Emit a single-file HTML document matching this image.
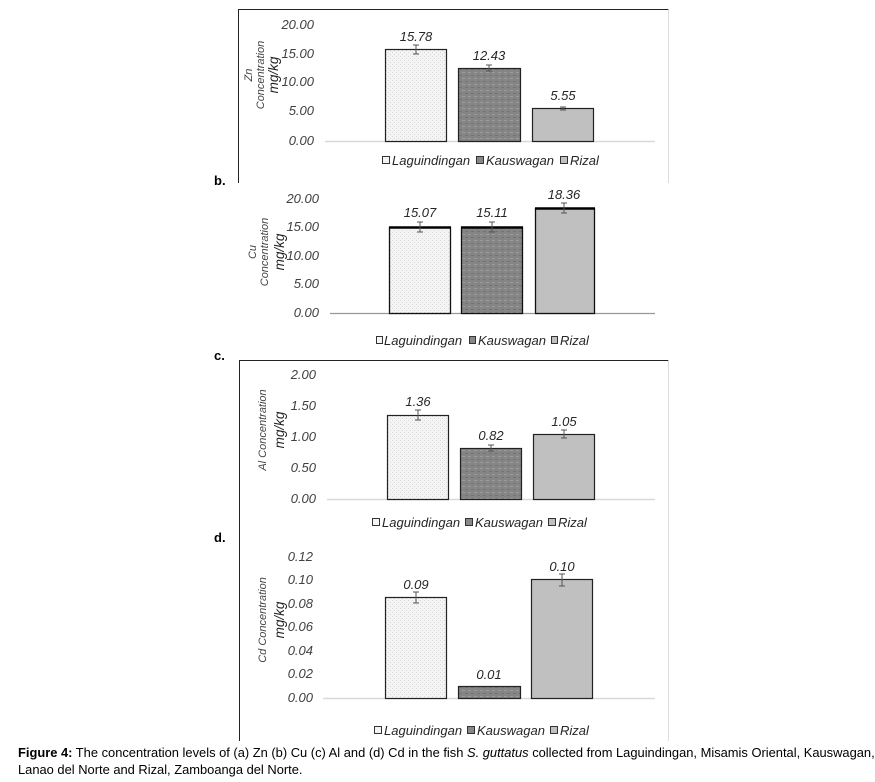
<!DOCTYPE html>
<html><head><meta charset="utf-8"><style>
body{margin:0;background:#fff;}
svg{display:block;}
text{font-family:"Liberation Sans",Arial,sans-serif;}
.t{font-size:13px;font-style:italic;fill:#404040;}
.v{font-size:13px;font-style:italic;fill:#262626;}
.lg{font-size:13px;font-style:italic;fill:#262626;}
.lab{font-size:13px;font-weight:bold;fill:#000;}
.yl{font-size:11px;font-style:italic;fill:#444;}
.ylb{font-size:13.5px;font-style:italic;fill:#222;}
</style></head><body>
<svg width="875" height="782" viewBox="0 0 875 782" xmlns="http://www.w3.org/2000/svg">
<defs>
<pattern id="p1" width="4" height="4" patternUnits="userSpaceOnUse"><rect width="4" height="4" fill="#f4f4f4"/><rect width="1" height="1" fill="#d8d8d8"/><rect x="2" y="2" width="1" height="1" fill="#d8d8d8"/></pattern>
<pattern id="p2" width="6" height="6" patternUnits="userSpaceOnUse"><rect width="6" height="6" fill="#858585"/><rect width="3" height="1" fill="#9c9c9c"/><rect x="3" y="3" width="3" height="1" fill="#747474"/></pattern>
</defs>
<path d="M238.5 183 V9.5 H668.5" stroke="#222" fill="none"/>
<path d="M668.5 9.5 V183" stroke="#ddd" fill="none"/>
<g class="t" text-anchor="end">
<text x="314" y="29">20.00</text><text x="314" y="58">15.00</text><text x="314" y="86">10.00</text><text x="314" y="115">5.00</text><text x="314" y="145">0.00</text></g>
<line x1="325" y1="141.5" x2="655" y2="141.5" stroke="#d9d9d9" stroke-width="1.5"/>
<rect x="385.5" y="49.5" width="61" height="92" fill="url(#p1)" stroke="#222" stroke-width="1.2"/>
<rect x="458.5" y="68.5" width="62" height="73" fill="url(#p2)" stroke="#222" stroke-width="1.2"/>
<rect x="532.5" y="108.5" width="61" height="33" fill="#c0c0c0" stroke="#222" stroke-width="1.2"/>
<g stroke="#555"><path d="M416 45V54M413 45H419M413 54H419"/><path d="M489 65V71M486 65H492M486 71H492"/><path d="M563 107V110M560 107H566M560 110H566"/></g>
<g class="v" text-anchor="middle"><text x="416" y="41">15.78</text><text x="489" y="60">12.43</text><text x="563" y="100">5.55</text></g>
<g transform="translate(252,75) rotate(-90)" text-anchor="middle"><text class="yl" x="0" y="0">Zn</text><text class="yl" x="0" y="12">Concentration</text><text class="ylb" x="0" y="26">mg/kg</text></g>
<g><rect x="382.5" y="156.5" width="7" height="7" fill="#f4f4f4" stroke="#333"/><text class="lg" x="392" y="165">Laguindingan</text>
<rect x="476.5" y="156.5" width="7" height="7" fill="#888" stroke="#333"/><text class="lg" x="486" y="165">Kauswagan</text>
<rect x="560.5" y="156.5" width="7" height="7" fill="#c0c0c0" stroke="#333"/><text class="lg" x="570" y="165">Rizal</text></g>
<text class="lab" x="214" y="185">b.</text>
<g class="t" text-anchor="end">
<text x="319" y="203">20.00</text><text x="319" y="231">15.00</text><text x="319" y="260">10.00</text><text x="319" y="288">5.00</text><text x="319" y="317">0.00</text></g>
<line x1="330" y1="313.5" x2="655" y2="313.5" stroke="#999" stroke-width="1.2"/>
<rect x="389.5" y="227.5" width="61" height="86" fill="url(#p1)" stroke="#111" stroke-width="1.3"/>
<line x1="389" y1="227.5" x2="451" y2="227.5" stroke="#000" stroke-width="2.5"/>
<rect x="461.5" y="227.5" width="61" height="86" fill="url(#p2)" stroke="#111" stroke-width="1.3"/>
<line x1="461" y1="227.5" x2="523" y2="227.5" stroke="#000" stroke-width="2.5"/>
<rect x="535.5" y="208.5" width="59" height="105" fill="#c0c0c0" stroke="#111" stroke-width="1.3"/>
<line x1="535" y1="208.5" x2="595" y2="208.5" stroke="#000" stroke-width="2.5"/>
<g stroke="#555"><path d="M420 222V232M417 222H423M417 232H423"/><path d="M492 222V232M489 222H495M489 232H495"/><path d="M564 203V213M561 203H567M561 213H567"/></g>
<g class="v" text-anchor="middle"><text x="420" y="217">15.07</text><text x="492" y="217">15.11</text><text x="564" y="199">18.36</text></g>
<g transform="translate(256,252) rotate(-90)" text-anchor="middle"><text class="yl" x="0" y="0">Cu</text><text class="yl" x="0" y="12">Concentration</text><text class="ylb" x="0" y="28">mg/kg</text></g>
<g><rect x="376.5" y="336.5" width="6" height="7" fill="#f4f4f4" stroke="#333"/><text class="lg" x="384" y="345">Laguindingan</text>
<rect x="469.5" y="336.5" width="6" height="7" fill="#888" stroke="#333"/><text class="lg" x="478" y="345">Kauswagan</text>
<rect x="551.5" y="336.5" width="6" height="7" fill="#c0c0c0" stroke="#333"/><text class="lg" x="560" y="345">Rizal</text></g>
<text class="lab" x="214" y="360">c.</text>
<path d="M239.5 741 V360.5 H668.5" stroke="#222" fill="none"/>
<path d="M668.5 360.5 V741" stroke="#ddd" fill="none"/>
<g class="t" text-anchor="end">
<text x="316" y="379">2.00</text><text x="316" y="410">1.50</text><text x="316" y="441">1.00</text><text x="316" y="472">0.50</text><text x="316" y="503">0.00</text></g>
<line x1="327" y1="499.5" x2="655" y2="499.5" stroke="#d9d9d9" stroke-width="1.5"/>
<rect x="387.5" y="415.5" width="61" height="84" fill="url(#p1)" stroke="#222" stroke-width="1.2"/>
<rect x="460.5" y="448.5" width="61" height="51" fill="url(#p2)" stroke="#222" stroke-width="1.2"/>
<rect x="533.5" y="434.5" width="61" height="65" fill="#c0c0c0" stroke="#222" stroke-width="1.2"/>
<g stroke="#555"><path d="M418 410V420M415 410H421M415 420H421"/><path d="M491 445V451M488 445H494M488 451H494"/><path d="M564 430V438M561 430H567M561 438H567"/></g>
<g class="v" text-anchor="middle"><text x="418" y="406">1.36</text><text x="491" y="440">0.82</text><text x="564" y="426">1.05</text></g>
<g transform="translate(266,430) rotate(-90)" text-anchor="middle"><text class="yl" x="0" y="0">Al Concentration</text><text class="ylb" x="0" y="18">mg/kg</text></g>
<g><rect x="372.5" y="518.5" width="7" height="7" fill="#f4f4f4" stroke="#333"/><text class="lg" x="382" y="527">Laguindingan</text>
<rect x="465.5" y="518.5" width="7" height="7" fill="#888" stroke="#333"/><text class="lg" x="475" y="527">Kauswagan</text>
<rect x="548.5" y="518.5" width="7" height="7" fill="#c0c0c0" stroke="#333"/><text class="lg" x="558" y="527">Rizal</text></g>
<text class="lab" x="214" y="542">d.</text>
<g class="t" text-anchor="end">
<text x="313" y="561">0.12</text><text x="313" y="584">0.10</text><text x="313" y="608">0.08</text><text x="313" y="631">0.06</text><text x="313" y="655">0.04</text><text x="313" y="678">0.02</text><text x="313" y="702">0.00</text></g>
<line x1="323" y1="698.5" x2="655" y2="698.5" stroke="#d9d9d9" stroke-width="1.5"/>
<rect x="385.5" y="597.5" width="61" height="101" fill="url(#p1)" stroke="#222" stroke-width="1.2"/>
<rect x="458.5" y="686.5" width="62" height="12" fill="url(#p2)" stroke="#222" stroke-width="1.2"/>
<rect x="531.5" y="579.5" width="61" height="119" fill="#c0c0c0" stroke="#222" stroke-width="1.2"/>
<g stroke="#555"><path d="M416 592V603M413 592H419M413 603H419"/><path d="M562 574V586M559 574H565M559 586H565"/></g>
<g class="v" text-anchor="middle"><text x="416" y="589">0.09</text><text x="489" y="679">0.01</text><text x="562" y="571">0.10</text></g>
<g transform="translate(266,620) rotate(-90)" text-anchor="middle"><text class="yl" x="0" y="0">Cd Concentration</text><text class="ylb" x="0" y="18">mg/kg</text></g>
<g><rect x="374.5" y="726.5" width="7" height="7" fill="#f4f4f4" stroke="#333"/><text class="lg" x="384" y="735">Laguindingan</text>
<rect x="467.5" y="726.5" width="7" height="7" fill="#888" stroke="#333"/><text class="lg" x="477" y="735">Kauswagan</text>
<rect x="550.5" y="726.5" width="7" height="7" fill="#c0c0c0" stroke="#333"/><text class="lg" x="560" y="735">Rizal</text></g>
<text x="18" y="757" font-size="12.9" fill="#000"><tspan font-weight="bold">Figure 4:</tspan> The concentration levels of (a) Zn (b) Cu (c) Al  and (d) Cd  in the fish <tspan font-style="italic">S. guttatus</tspan> collected from Laguindingan, Misamis Oriental, Kauswagan,</text>
<text x="18" y="774" font-size="12.9" fill="#000">Lanao del Norte and Rizal, Zamboanga del Norte.</text>
</svg>
</body></html>
